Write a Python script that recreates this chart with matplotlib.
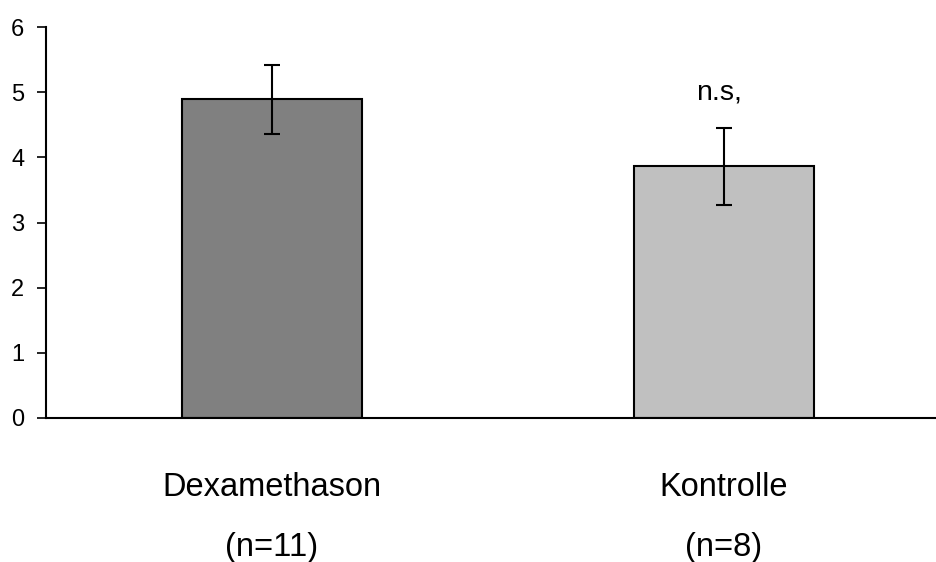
import matplotlib
matplotlib.use("Agg")
import matplotlib.pyplot as plt

plt.rcParams['font.family'] = ['Liberation Sans', 'DejaVu Sans']

groups = ["Dexamethason", "Kontrolle"]
group_n = ["(n=11)", "(n=8)"]
means = [4.89, 3.86]
errors = [0.53, 0.59]
bar_colors = ["#808080", "#c0c0c0"]
sig_label = "n.s,"

fig = plt.figure(figsize=(9.36, 5.62), dpi=100)
ax = fig.add_axes([46 / 936, 1 - 418 / 562, 1 - 46 / 936, (418 - 27) / 562])

x = range(len(groups))
ax.bar(x, means, width=0.4, color=bar_colors, edgecolor="black", linewidth=1.5, zorder=2)
ax.errorbar(x, means, yerr=errors, fmt="none", ecolor="black", elinewidth=1.5,
            capsize=5.8, capthick=1.5, zorder=3)

# significance note above the control bar
ax.text(0.99, 4.88, sig_label, ha="center", va="baseline", fontsize=20.5)

ax.set_xlim(-0.5, 1.469)
ax.set_ylim(0, 6)
ax.set_yticks(range(7))
ax.tick_params(axis="y", direction="out", length=6.5, width=1.2, labelsize=17, pad=9)
ax.set_xticks([])
for side in ["top", "right"]:
    ax.spines[side].set_visible(False)
ax.spines["left"].set_linewidth(1.5)
ax.spines["bottom"].set_linewidth(1.5)

for i, (g, n) in enumerate(zip(groups, group_n)):
    ax.text(i, -1.197, g, ha="center", va="baseline", fontsize=23.5, clip_on=False)
    ax.text(i, -2.118, n, ha="center", va="baseline", fontsize=23.5, clip_on=False)

fig.savefig("out.png", dpi=100)
